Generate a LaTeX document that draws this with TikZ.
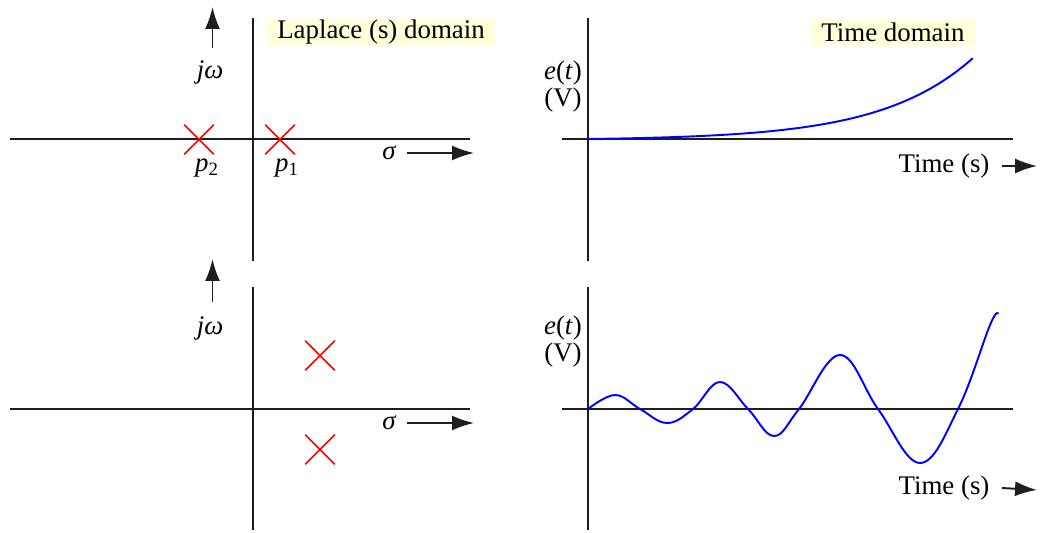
\documentclass[tikz,border=0pt]{standalone}
\usepackage{fontspec}
\setmainfont{Liberation Serif}
\usetikzlibrary{arrows.meta,shapes.misc}
\definecolor{tagbg}{RGB}{255,255,218}
\definecolor{axisgray}{RGB}{30,30,30}
\begin{document}
\begin{tikzpicture}[x=0.02cm, y=-0.02cm,
  every node/.style={font=\fontsize{15.3}{17}\selectfont, inner sep=0pt},
  axis/.style={draw=axisgray, line width=1.1pt},
  pointer/.style={axisgray, line width=1.1pt, -{Latex[length=0.44cm,width=0.3cm]}},
  pole/.style={cross out, draw=red, line width=0.9pt, minimum size=0.56cm},
  wave/.style={blue, line width=1.1pt},
  tag/.style={fill=tagbg, inner xsep=0.2cm, minimum height=0.52cm}]
\useasboundingbox (0,0) rectangle (1051,533);
% Laplace plane, real poles
\draw[axis] (10,139) -- (470,139);
\draw[axis] (253,18) -- (253,261);
\node[tag] (lap) at (381,32) {Laplace (s) domain};
\node (jw1) at (210,72) {\textit{jω}};
\draw[pointer] (212.5,48) -- (212.5,7);
\node[pole] (p2) at (199,139.5) {};
\node[pole] (p1) at (280,139.5) {};
\node (p2lbl) at (207,168) {\textit{p}\textsubscript{2}};
\node (p1lbl) at (287,168) {\textit{p}\textsubscript{1}};
\node (sig1) at (389.5,153) {\textit{σ}};
\draw[pointer] ([xshift=0.2cm]sig1.east) -- (474,153);
% Laplace plane, complex poles
\draw[axis] (10,409) -- (470,409);
\draw[axis] (253,287) -- (253,530);
\node (jw2) at (210,328) {\textit{jω}};
\draw[pointer] (212.5,302) -- (212.5,259);
\node[pole] (pa) at (320,355.5) {};
\node[pole] (pb) at (320,449.5) {};
\node (sig2) at (389.5,423) {\textit{σ}};
\draw[pointer] ([xshift=0.2cm]sig2.east) -- (474,423);
% time response, growing exponential
\draw[axis] (588,18) -- (588,261);
\draw[axis] (562,139) -- (1013,139);
\node[tag] (tdom) at (893,32) {Time domain};
\node (et1) at (563,73) {\textit{e}(\textit{t})};
\node (v1) at (563,100.5) {(V)};
\node (time1) at (944,166) {Time (s)};
\draw[pointer] ([xshift=0.24cm]time1.east) -- (1037,166);
\draw[wave] plot[domain=0:1, samples=80] ({588+385*\x}, {139-81*(exp(4.2*\x)-1)/(exp(4.2)-1)});
% time response, growing oscillation
\draw[axis] (588,287) -- (588,530);
\draw[axis] (562,409) -- (1013,409);
\node (et2) at (563,328) {\textit{e}(\textit{t})};
\node (v2) at (563,355.5) {(V)};
\node (time2) at (944,488) {Time (s)};
\draw[pointer] ([xshift=0.24cm]time2.east) -- (1037,490);
\draw[wave] plot[smooth, tension=0.65] coordinates {(588,409) (615,395) (640,409) (667,423) (693,409) (720,382) (748,409) (774,436) (799,409) (840,355) (878,409) (920,463) (958,409) (990,325) (998,314)};
\end{tikzpicture}
\end{document}
